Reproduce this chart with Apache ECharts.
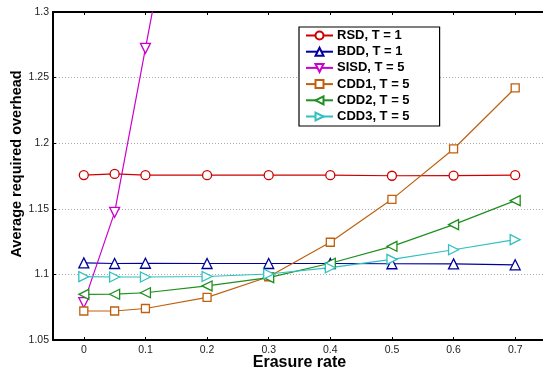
<!DOCTYPE html>
<html><head><meta charset="utf-8">
<script src="https://cdn.jsdelivr.net/npm/echarts@6/dist/echarts.min.js"></script>
<style>html,body{margin:0;padding:0;background:#fff}#c{width:543px;height:371px}</style>
</head><body><div id="c"></div>
<script>
var erasureRates = [0, 0.05, 0.1, 0.2, 0.3, 0.4, 0.5, 0.6, 0.7];
var xTickValues = [0, 0.1, 0.2, 0.3, 0.4, 0.5, 0.6, 0.7];
var seriesNames = ['RSD, T = 1', 'BDD, T = 1', 'SISD, T = 5', 'CDD1, T = 5', 'CDD2, T = 5', 'CDD3, T = 5'];
var rsd  = [1.1757, 1.1766, 1.1756, 1.1756, 1.1756, 1.1756, 1.1752, 1.1753, 1.1756];
var bdd  = [1.1088, 1.1083, 1.1085, 1.1083, 1.1083, 1.1083, 1.1081, 1.1080, 1.1073];
var sisd = [1.0785, 1.1473, 1.2723, 1.5200, null, null, null, null, null];
var cdd1 = [1.0721, 1.0721, 1.0740, 1.0825, 1.0982, 1.1245, 1.1572, 1.1956, 1.2421];
var cdd2 = [1.0848, 1.0849, 1.0860, 1.0912, 1.0975, 1.1085, 1.1214, 1.1379, 1.1562];
var cdd3 = [1.0983, 1.0980, 1.0980, 1.0984, 1.1003, 1.1051, 1.1115, 1.1188, 1.1265];

var colors = ['#cc0000', '#00009c', '#cc00cc', '#c0600e', '#1f8f1f', '#30c0c0'];
var symbols = ['circle', 'triangle', 'triangle', 'rect', 'triangle', 'triangle'];
var rotations = [0, 0, 180, 0, 90, -90];
var sizes = [9, 10, 10, 8, 10, 10];
var values = [rsd, bdd, sisd, cdd1, cdd2, cdd3];

function pairs(v) {
  var out = [];
  for (var i = 0; i < erasureRates.length; i++) {
    if (v[i] !== null) out.push([erasureRates[i], v[i]]);
  }
  return out;
}

var series = seriesNames.map(function (n, k) {
  return {
    name: n, type: 'line', data: pairs(values[k]),
    symbol: symbols[k], symbolSize: sizes[k], symbolRotate: rotations[k],
    showAllSymbol: true, clip: true,
    lineStyle: { color: colors[k], width: 1.2 },
    itemStyle: { color: '#fff', borderColor: colors[k], borderWidth: 1.3 },
    emphasis: { disabled: true },
    animation: false
  };
});

var chart = echarts.init(document.getElementById('c'), null, { renderer: 'canvas' });
chart.setOption({
  animation: false,
  backgroundColor: '#fff',
  grid: { left: 53, top: 12, right: -3, bottom: 31, containLabel: false, outerBoundsMode: 'none' },
  xAxis: [{
    type: 'value', min: -0.05, max: 0.75, position: 'bottom',
    name: 'Erasure rate', nameLocation: 'middle', nameGap: 15, nameMoveOverlap: false,
    nameTextStyle: { fontFamily: 'Liberation Sans', fontWeight: 'bold', fontSize: 16, color: '#000', verticalAlign: 'top' },
    axisLine: { onZero: false, lineStyle: { color: '#000', width: 2 } },
    axisTick: { inside: true, length: 3, customValues: xTickValues, lineStyle: { color: '#000' } },
    axisLabel: { customValues: xTickValues, margin: 5, fontFamily: 'Liberation Sans', fontSize: 10.5, color: '#222',
      formatter: function (v) { return String(Math.round(v * 10) / 10); } },
    splitLine: { show: false }
  }, {
    type: 'value', min: -0.05, max: 0.75, position: 'top',
    axisLine: { onZero: false, lineStyle: { color: '#000', width: 2 } },
    axisTick: { inside: true, length: 3, customValues: xTickValues, lineStyle: { color: '#000' } },
    axisLabel: { show: false },
    splitLine: { show: false }
  }],
  yAxis: {
    type: 'value', min: 1.05, max: 1.3, interval: 0.05,
    axisLine: { onZero: false, lineStyle: { color: '#000', width: 2 } },
    axisTick: { inside: true, length: 3, lineStyle: { color: '#000' } },
    axisLabel: { margin: 4, fontFamily: 'Liberation Sans', fontSize: 10.5, color: '#222',
      formatter: function (v) { return String(Math.round(v * 100) / 100); } },
    splitLine: { show: true, lineStyle: { color: '#aaaaaa', type: [1, 2], width: 1 } }
  },
  legend: {
    orient: 'vertical', left: 299, top: 27,
    backgroundColor: '#fff', borderColor: '#000', borderWidth: 1.2,
    padding: [2, 30, 3, 6],
    itemWidth: 27, itemHeight: 10, itemGap: 3.2,
    textStyle: { fontFamily: 'Liberation Sans', fontWeight: 'bold', fontSize: 13, color: '#000', padding: [0, 0, 0, -1] },
    data: seriesNames
  },
  graphic: [{
    type: 'text', x: 17, y: 164, rotation: Math.PI / 2,
    style: { text: 'Average required overhead', fontFamily: 'Liberation Sans', fontWeight: 'bold', fontSize: 14.5,
      fill: '#000', align: 'center', verticalAlign: 'middle' }
  }],
  series: series
});
</script></body></html>
